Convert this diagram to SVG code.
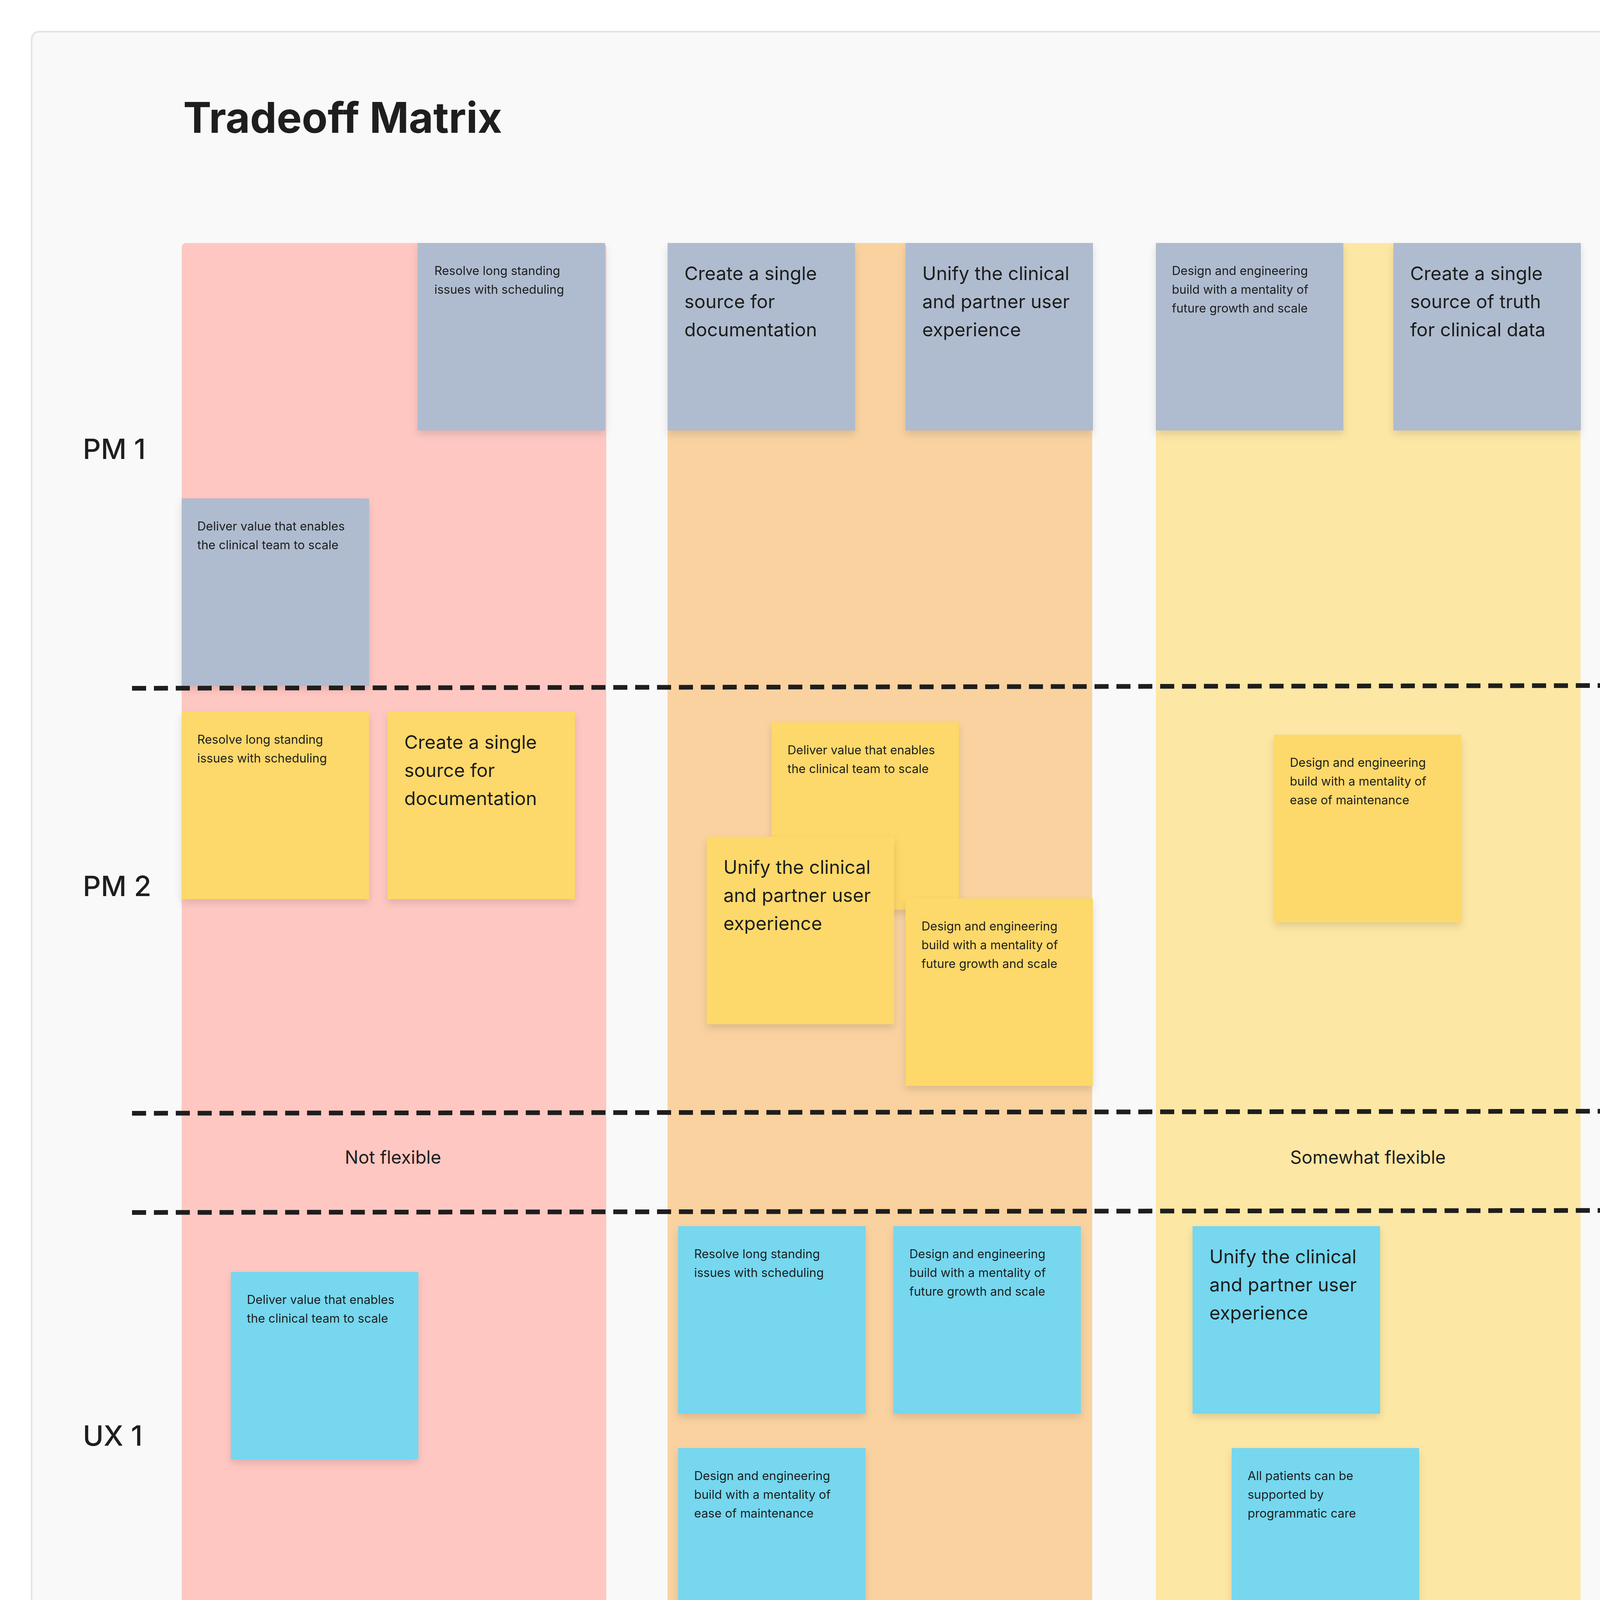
<svg xmlns="http://www.w3.org/2000/svg" width="7072" height="5675" viewBox="0 0 7072 5675">
<defs>
<filter id="sh" x="-10%" y="-10%" width="120%" height="130%"><feDropShadow dx="0" dy="10" stdDeviation="10" flood-color="#000" flood-opacity="0.12"/></filter>
<style>
text{font-family:Inter,"Noto Sans","Liberation Sans",sans-serif;fill:#1e1e1e}
.s{font-size:31px}
.l{font-size:48px}
.a{font-size:24px;fill:#3f6b4e}
.row{font-size:72px;font-weight:500}
.cl{font-size:46px;text-anchor:middle}
.st{filter:url(#sh)}
.gr{fill:#afbccf}.ye{fill:#fdd86a}.bl{fill:#76d7ef}.gn{fill:#86e0a3}
.dash{stroke:#1e1e1e;stroke-width:12;stroke-dasharray:36 20;fill:none}
</style>
</defs>
<rect x="0" y="0" width="7072" height="5675" fill="#ffffff"/>
<rect x="81" y="81" width="6910" height="5512" rx="20" fill="#f9f9f9" stroke="#e3e3e3" stroke-width="4"/>
<text x="469" y="340" style="font-size:108px;font-weight:700">Tradeoff Matrix</text>
<g id="columns">
<rect x="465" y="622" width="1087" height="4677" rx="12" fill="#ffc7c2"/>
<rect x="1709" y="622" width="1087" height="4677" rx="12" fill="#f9d2a0"/>
<rect x="2959" y="622" width="1087" height="4677" rx="12" fill="#fde7a4"/>
<rect x="4208" y="622" width="1087" height="4677" rx="12" fill="#aff4c6"/>
<rect x="5457" y="622" width="1087" height="4677" rx="12" fill="#bde3fa"/>
</g>
<g id="labels">
<text class="row" x="212" y="1175">PM 1</text>
<text class="row" x="212" y="2294">PM 2</text>
<text class="row" x="212" y="3701">UX 1</text>
<text class="row" x="212" y="4819">UX 2</text>
<text class="cl" x="1006" y="2979">Not flexible</text>
<text class="cl" x="3502" y="2979">Somewhat flexible</text>
<text class="cl" x="6000" y="2979">Flexible</text>
</g>
<g id="n1" class="st"><rect class="gr" x="1069" y="622" width="480" height="480"/><text class="s" x="1112" y="704">Resolve long standing</text><text class="s" x="1112" y="752">issues with scheduling</text></g>
<g id="n2" class="st"><rect class="gr" x="465" y="1276" width="480" height="480"/><text class="s" x="505" y="1358">Deliver value that enables</text><text class="s" x="505" y="1406">the clinical team to scale</text></g>
<g id="n3" class="st"><rect class="gr" x="1709" y="622" width="480" height="480"/><text class="l" x="1752" y="717">Create a single</text><text class="l" x="1752" y="789">source for</text><text class="l" x="1752" y="861">documentation</text></g>
<g id="n4" class="st"><rect class="gr" x="2318" y="622" width="480" height="480"/><text class="l" x="2361" y="717">Unify the clinical</text><text class="l" x="2361" y="789">and partner user</text><text class="l" x="2361" y="861">experience</text></g>
<g id="n5" class="st"><rect class="gr" x="2959" y="622" width="480" height="480"/><text class="s" x="3000" y="704">Design and engineering</text><text class="s" x="3000" y="752">build with a mentality of</text><text class="s" x="3000" y="800">future growth and scale</text></g>
<g id="n6" class="st"><rect class="gr" x="3567" y="622" width="480" height="480"/><text class="l" x="3610" y="717">Create a single</text><text class="l" x="3610" y="789">source of truth</text><text class="l" x="3610" y="861">for clinical data</text></g>
<g id="n7" class="st"><rect class="gr" x="4208" y="622" width="480" height="480"/><text class="s" x="4249" y="704">All patients can be</text><text class="s" x="4249" y="752">supported by</text><text class="s" x="4249" y="800">programmatic care</text></g>
<g id="n8" class="st"><rect class="gr" x="4817" y="622" width="480" height="480"/><text class="s" x="4858" y="704">Design and engineering</text><text class="s" x="4858" y="752">build with a mentality of</text><text class="s" x="4858" y="800">ease of maintenance</text></g>
<g id="connectors">
<line class="dash" x1="338" y1="1762" x2="6756" y2="1750"/>
<line class="dash" x1="338" y1="2850" x2="6756" y2="2841"/>
<line class="dash" x1="338" y1="3104" x2="6756" y2="3095"/>
<line class="dash" x1="338" y1="4254" x2="6756" y2="4246"/>
</g>
<g id="n9" class="st"><rect class="ye" x="465" y="1822" width="480" height="480"/><text class="s" x="505" y="1904">Resolve long standing</text><text class="s" x="505" y="1952">issues with scheduling</text></g>
<g id="n10" class="st"><rect class="ye" x="992" y="1822" width="480" height="480"/><text class="l" x="1035" y="1917">Create a single</text><text class="l" x="1035" y="1989">source for</text><text class="l" x="1035" y="2061">documentation</text></g>
<g id="n11" class="st"><rect class="ye" x="1975" y="1849" width="480" height="480"/><text class="s" x="2016" y="1931">Deliver value that enables</text><text class="s" x="2016" y="1979">the clinical team to scale</text></g>
<g id="n12" class="st"><rect class="ye" x="1809" y="2142" width="480" height="480"/><text class="l" x="1852" y="2237">Unify the clinical</text><text class="l" x="1852" y="2309">and partner user</text><text class="l" x="1852" y="2381">experience</text></g>
<g id="n13" class="st"><rect class="ye" x="2318" y="2300" width="480" height="480"/><text class="s" x="2359" y="2382">Design and engineering</text><text class="s" x="2359" y="2430">build with a mentality of</text><text class="s" x="2359" y="2478">future growth and scale</text></g>
<g id="n14" class="st"><rect class="ye" x="3261" y="1881" width="480" height="480"/><text class="s" x="3302" y="1963">Design and engineering</text><text class="s" x="3302" y="2011">build with a mentality of</text><text class="s" x="3302" y="2059">ease of maintenance</text></g>
<g id="n15" class="st"><rect class="ye" x="4817" y="1754" width="480" height="480"/><text class="l" x="4860" y="1849">Create a single</text><text class="l" x="4860" y="1921">source of truth</text><text class="l" x="4860" y="1993">for clinical data</text></g>
<g id="n16" class="st"><rect class="ye" x="5457" y="1754" width="480" height="480"/><text class="s" x="5498" y="1836">All patients can be</text><text class="s" x="5498" y="1884">supported by</text><text class="s" x="5498" y="1932">programmatic care</text></g>
<g id="n17" class="st"><rect class="bl" x="591" y="3256" width="480" height="480"/><text class="s" x="632" y="3338">Deliver value that enables</text><text class="s" x="632" y="3386">the clinical team to scale</text></g>
<g id="n18" class="st"><rect class="bl" x="1736" y="3139" width="480" height="480"/><text class="s" x="1777" y="3221">Resolve long standing</text><text class="s" x="1777" y="3269">issues with scheduling</text></g>
<g id="n19" class="st"><rect class="bl" x="2287" y="3139" width="480" height="480"/><text class="s" x="2328" y="3221">Design and engineering</text><text class="s" x="2328" y="3269">build with a mentality of</text><text class="s" x="2328" y="3317">future growth and scale</text></g>
<g id="n20" class="st"><rect class="bl" x="1736" y="3707" width="480" height="480"/><text class="s" x="1777" y="3789">Design and engineering</text><text class="s" x="1777" y="3837">build with a mentality of</text><text class="s" x="1777" y="3885">ease of maintenance</text></g>
<g id="n21" class="st"><rect class="bl" x="3053" y="3139" width="480" height="480"/><text class="l" x="3096" y="3234">Unify the clinical</text><text class="l" x="3096" y="3306">and partner user</text><text class="l" x="3096" y="3378">experience</text></g>
<g id="n22" class="st"><rect class="bl" x="3153" y="3707" width="480" height="480"/><text class="s" x="3194" y="3789">All patients can be</text><text class="s" x="3194" y="3837">supported by</text><text class="s" x="3194" y="3885">programmatic care</text></g>
<g id="n23" class="st"><rect class="bl" x="4271" y="3225" width="480" height="480"/><text class="l" x="4314" y="3320">Create a single</text><text class="l" x="4314" y="3392">source for</text><text class="l" x="4314" y="3464">documentation</text></g>
<g id="n24" class="st"><rect class="bl" x="4812" y="3707" width="480" height="480"/><text class="l" x="4855" y="3802">Create a single</text><text class="l" x="4855" y="3874">source of truth</text><text class="l" x="4855" y="3946">for clinical data</text></g>
<g id="n25" class="st"><rect class="gn" x="401" y="4343" width="480" height="480"/><text class="s" x="441" y="4425">Resolve long standing</text><text class="s" x="441" y="4473">issues with scheduling</text><text class="a" x="441" y="4769">Brian Pennington</text></g>
<g id="n26" class="st"><rect class="gn" x="974" y="4343" width="480" height="480"/><text class="s" x="1014" y="4425">Deliver value that enables</text><text class="s" x="1014" y="4473">the clinical team to scale</text><text class="a" x="1014" y="4769">Ira Cummings</text></g>
<g id="n27" class="st"><rect class="gn" x="974" y="4920" width="480" height="480"/><text class="s" x="1014" y="5002">Design and engineering</text><text class="s" x="1014" y="5050">build with a mentality of</text><text class="s" x="1014" y="5098">future growth and scale</text><text class="a" x="1014" y="5346">Ira Cummings</text></g>
<g id="n28" class="st"><rect class="gn" x="1809" y="4375" width="480" height="480"/><text class="l" x="1852" y="4470">Unify the clinical</text><text class="l" x="1852" y="4542">and partner user</text><text class="l" x="1852" y="4614">experience</text><text class="a" x="1849" y="4801">Ira Cummings</text></g>
<g id="n29" class="st"><rect class="gn" x="2381" y="4343" width="480" height="480"/><text class="s" x="2421" y="4425">Design and engineering</text><text class="s" x="2421" y="4473">build with a mentality of</text><text class="s" x="2421" y="4521">ease of maintenance</text><text class="a" x="2421" y="4769">Ira Cummings</text></g>
<g id="n30" class="st"><rect class="gn" x="2192" y="4884" width="480" height="480"/><text class="l" x="2235" y="4979">Create a single</text><text class="l" x="2235" y="5051">source for</text><text class="l" x="2235" y="5123">documentation</text><text class="a" x="2232" y="5310">Ira Cummings</text></g>
<g id="n31" class="st"><rect class="gn" x="3297" y="4555" width="480" height="480"/><text class="s" x="3337" y="4637">All patients can be</text><text class="s" x="3337" y="4685">supported by</text><text class="s" x="3337" y="4733">programmatic care</text><text class="a" x="3337" y="4981">Ira Cummings</text></g>
<g id="n32" class="st"><rect class="gn" x="4208" y="4343" width="480" height="480"/><text class="l" x="4251" y="4438">Create a single</text><text class="l" x="4251" y="4510">source of truth</text><text class="l" x="4251" y="4582">for clinical data</text><text class="a" x="4248" y="4769">Ira Cummings</text></g>
</svg>
